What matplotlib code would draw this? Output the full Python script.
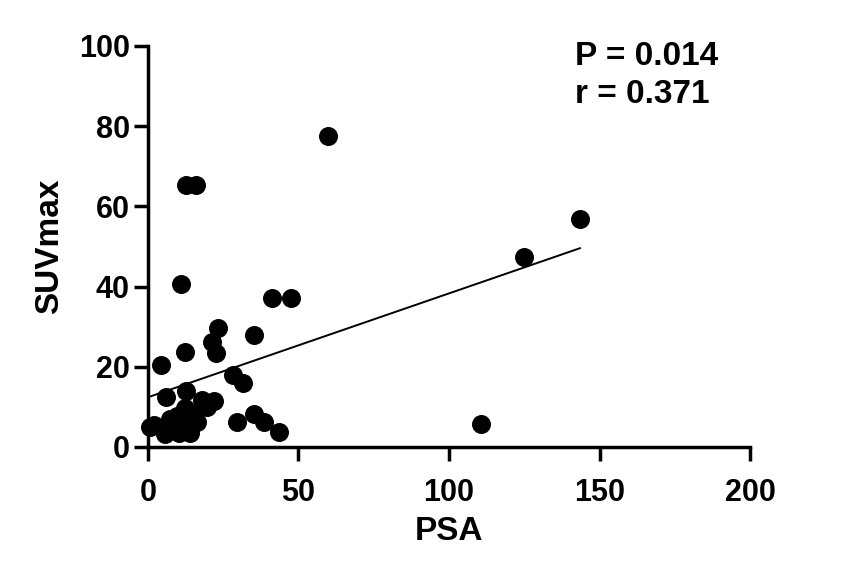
import numpy as np
import matplotlib.pyplot as plt

plt.rcParams['font.family'] = ['Liberation Sans', 'DejaVu Sans']
plt.rcParams['font.weight'] = 'bold'

# PSA vs SUVmax
psa = [59.8, 12.6, 16.0, 143.5, 125.0, 11.0, 41.3, 47.4, 23.1, 21.2, 22.5, 12.3,
       35.2, 4.4, 28.4, 31.5, 6.0, 12.6, 0.8, 2.0, 7.3, 5.8, 10.3, 14.0,
       12.3, 14.8, 16.2, 11.7, 18.0, 21.8, 19.5, 9.5, 29.5, 35.2, 38.5, 43.6,
       110.5]
suv = [77.6, 65.3, 65.3, 56.9, 47.4, 40.6, 37.2, 37.2, 29.6, 26.1, 23.5, 23.8,
       27.9, 20.4, 18.0, 16.0, 12.4, 14.0, 5.1, 5.4, 7.0, 3.3, 3.6, 3.4,
       9.6, 8.3, 6.3, 5.9, 11.7, 11.4, 10.0, 7.6, 6.2, 8.2, 6.3, 3.8,
       5.8]
# regression line as drawn in the figure
fit_intercept = 12.4
fit_slope = 0.259
p_text = "P = 0.014"
r_text = "r = 0.371"

x = np.array(psa)
y = np.array(suv)

fig = plt.figure(figsize=(8.52, 5.74), dpi=100)
ax = fig.add_axes([0.1737, 0.2213, 0.7066, 0.6986])

ax.scatter(x, y, s=160, color='black', zorder=3, clip_on=False)
xf = np.array([0, x.max()])
ax.plot(xf, fit_intercept + fit_slope * xf, color='black', lw=1.4)

ax.set_xlim(0, 200)
ax.set_ylim(0, 100)
ax.set_xticks([0, 50, 100, 150, 200])
ax.set_yticks([0, 20, 40, 60, 80, 100])
for s in ['top', 'right']:
    ax.spines[s].set_visible(False)
for s in ['left', 'bottom']:
    ax.spines[s].set_linewidth(2.5)
ax.tick_params(width=2.5, length=10, labelsize=22)
ax.tick_params(axis='x', pad=12)
ax.tick_params(axis='y', pad=3)
for lab in ax.get_xticklabels() + ax.get_yticklabels():
    lab.set_fontweight('bold')

ax.set_xlabel("PSA", fontsize=24, fontweight='bold', labelpad=6)
ax.set_ylabel("SUVmax", fontsize=24, fontweight='bold', labelpad=10)

ax.text(142, 97.5, p_text, fontsize=24, fontweight='bold', va='center', ha='left')
ax.text(142, 87.8, r_text, fontsize=24, fontweight='bold', va='center', ha='left')

fig.savefig("out.png", dpi=100)
